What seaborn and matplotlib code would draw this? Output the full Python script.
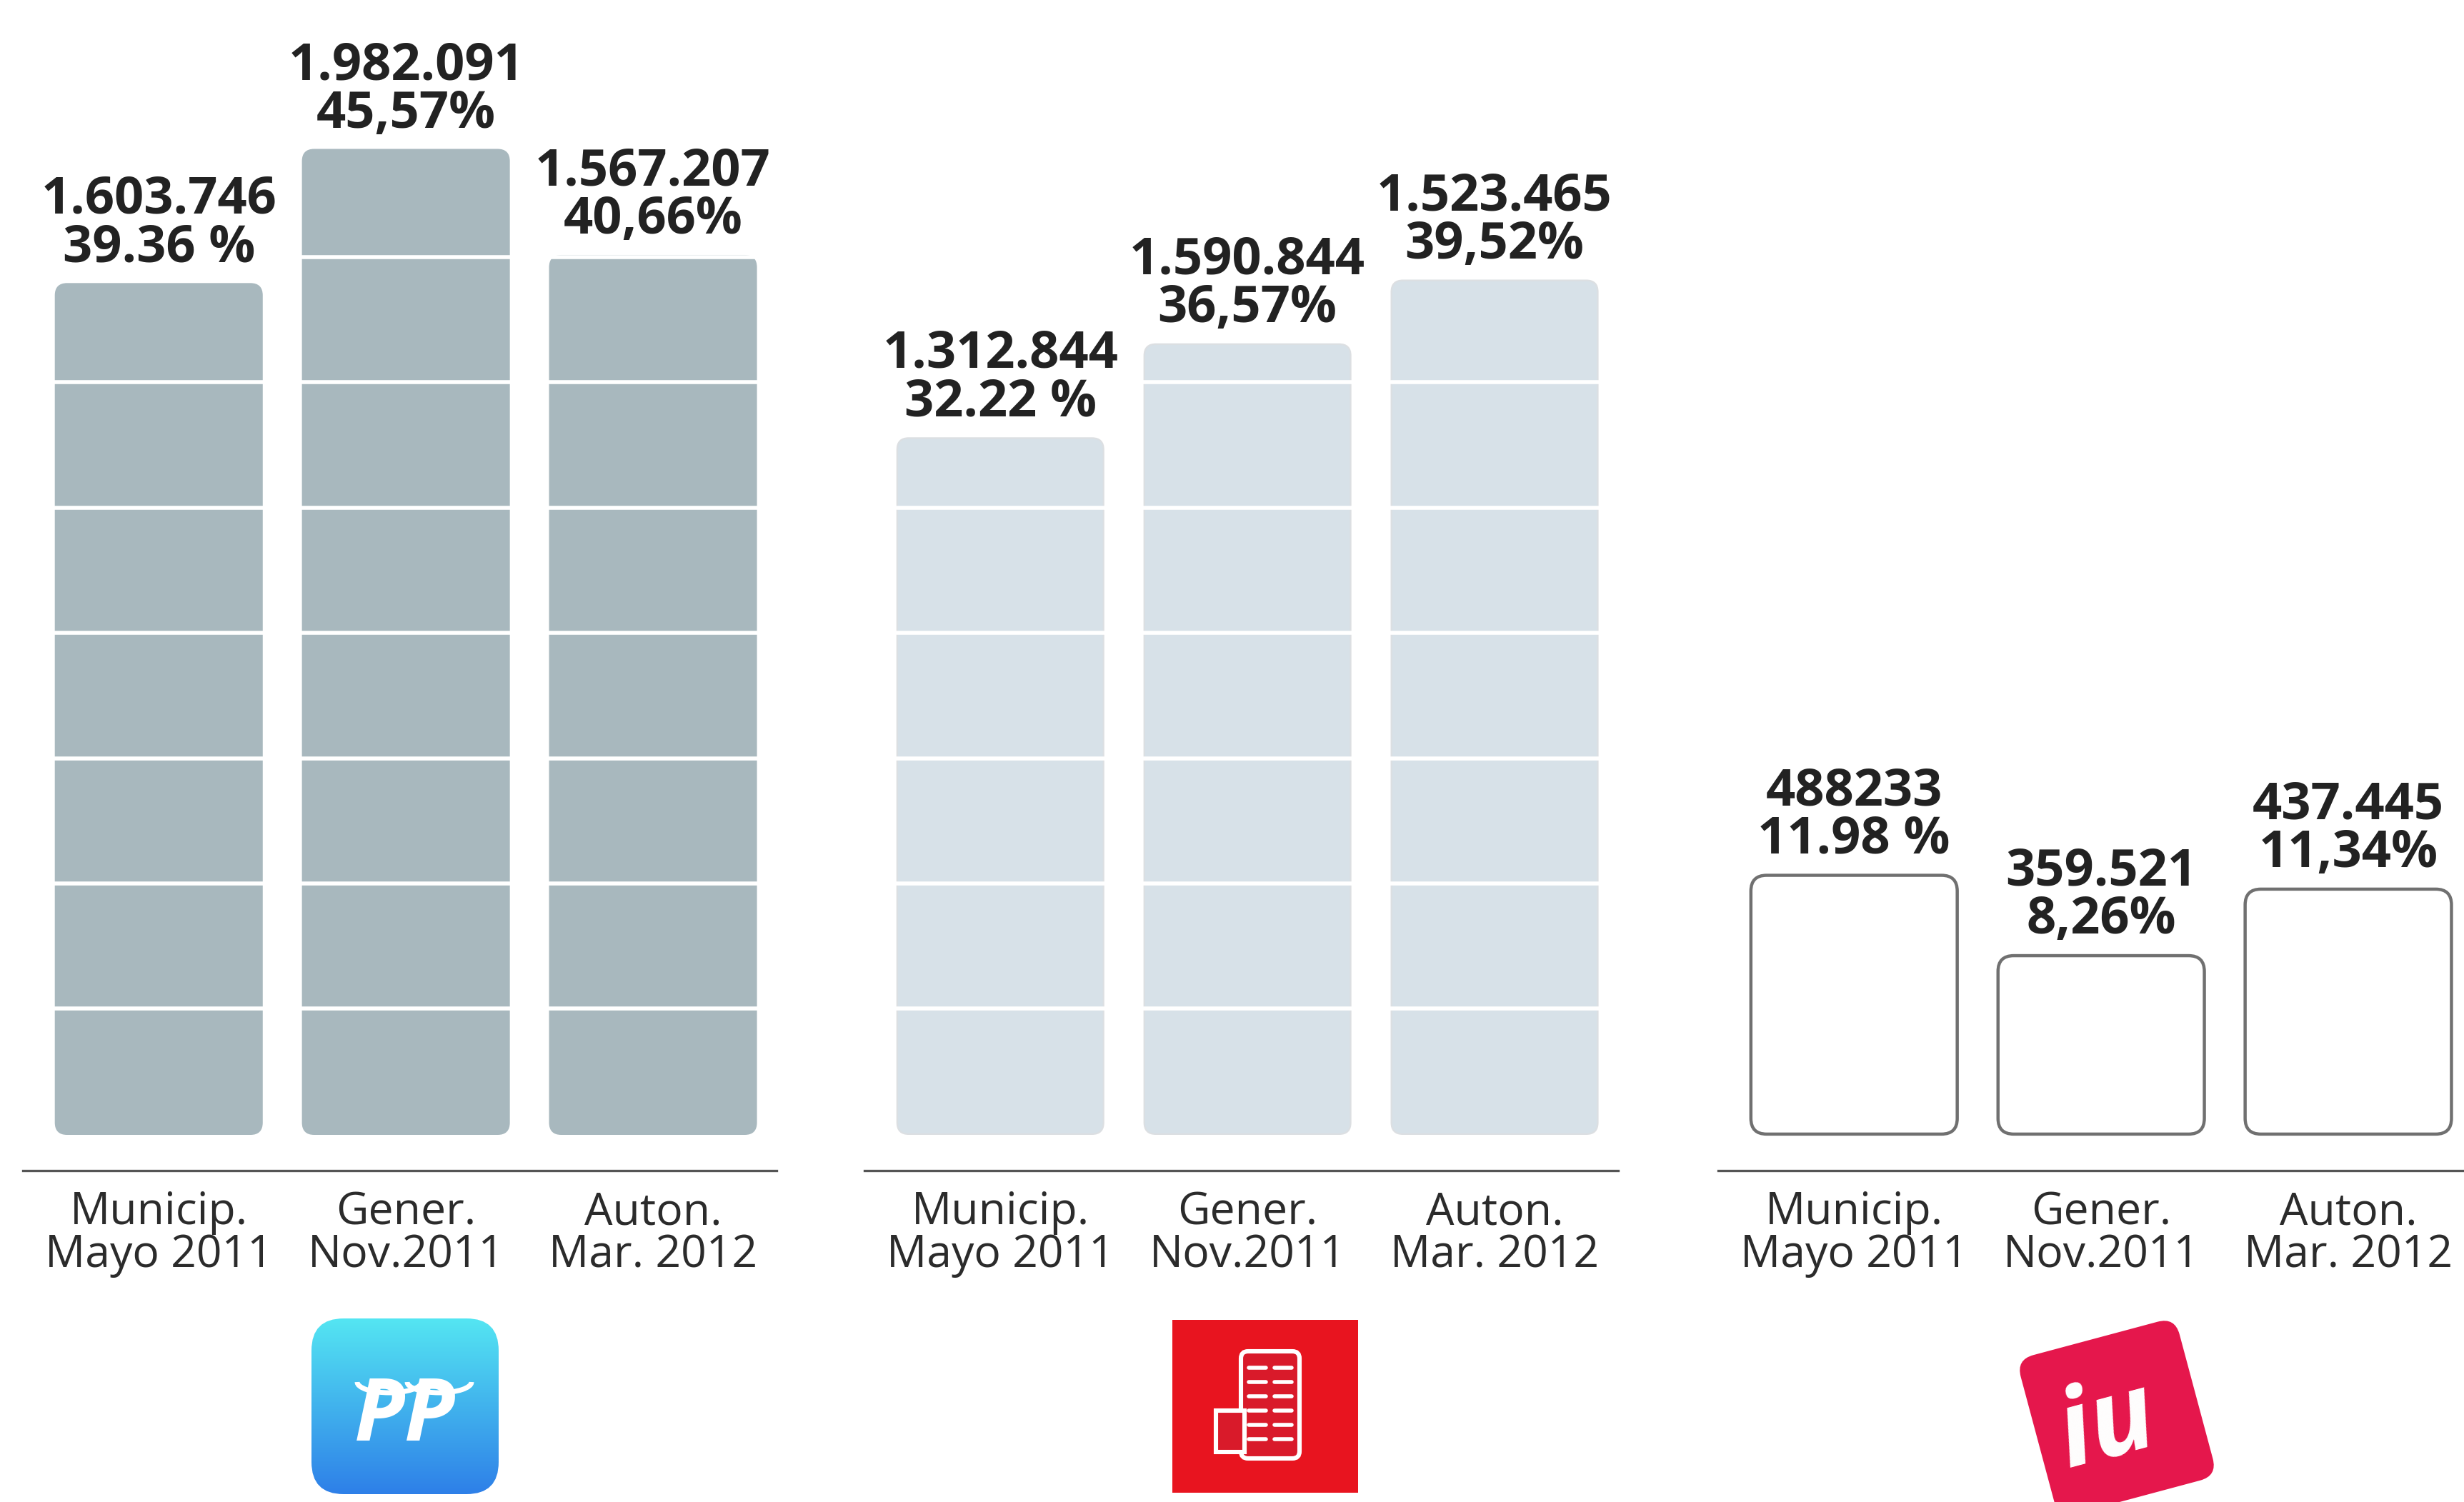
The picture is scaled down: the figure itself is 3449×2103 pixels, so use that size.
import matplotlib.pyplot as plt
import matplotlib.transforms as mtransforms
from matplotlib.patches import FancyBboxPatch, Rectangle, Arc
import numpy as np
import pandas as pd
import seaborn as sns

# Datos: votos y porcentaje por partido y eleccion
elecciones = ['Municip.\nMayo 2011', 'Gener.\nNov.2011', 'Auton.\nMar. 2012']

pct_pp = [39.36, 45.57, 40.66]
pct_psoe = [32.22, 36.57, 39.52]
pct_iu = [11.98, 8.26, 11.34]

votos_pp = ['1.603.746', '1.982.091', '1.567.207']
votos_psoe = ['1.312.844', '1.590.844', '1.523.465']
votos_iu = ['488233', '359.521', '437.445']

etiq_pct_pp = ['39.36 %', '45,57%', '40,66%']
etiq_pct_psoe = ['32.22 %', '36,57%', '39,52%']
etiq_pct_iu = ['11.98 %', '8,26%', '11,34%']

# lineas blancas decorativas que cortan las barras
cortes = [5.8, 11.6, 17.4, 23.2, 29.0, 34.8, 40.6]

sns.set_theme(style='white')
plt.rcParams['font.family'] = ['Open Sans', 'DejaVu Sans']

W, H = 3449, 2103
fig = plt.figure(figsize=(W / 200, H / 200), dpi=200)
fig.patch.set_facecolor('white')


def ejes_px(left, top, width, bottom):
    return fig.add_axes([left / W, 1 - bottom / H, width / W, (bottom - top) / H])


def redondear(ax, r_px, face, edge, lw):
    # cambio los rectangulos de seaborn por cajas con esquinas redondeadas
    p0 = ax.transData.transform((0, 0))
    p1 = ax.transData.transform((1, 1))
    px_x, px_y = p1[0] - p0[0], p1[1] - p0[1]
    r = r_px / px_x
    for p in list(ax.patches):
        x, y, w, h = p.get_x(), p.get_y(), p.get_width(), p.get_height()
        p.remove()
        caja = FancyBboxPatch((x, y), w, h,
                              boxstyle=f'round,pad=0,rounding_size={r}',
                              mutation_aspect=px_x / px_y,
                              facecolor=face, edgecolor=edge, linewidth=lw, zorder=1)
        ax.add_patch(caja)


partidos = [
    ('PP', pct_pp, votos_pp, etiq_pct_pp, 32, '#a8b8be', '#a8b8be', True),
    ('PSOE', pct_psoe, votos_psoe, etiq_pct_psoe, 1210, '#d7e1e8', '#dcdfe2', True),
    ('IU', pct_iu, votos_iu, etiq_pct_iu, 2405, 'white', '#707070', False),
]

for nombre, pct, votos, etiq, left, face, edge, con_cortes in partidos:
    ax = ejes_px(left, 0, 1055, 1639)
    df = pd.DataFrame({'eleccion': elecciones, 'pct': pct})
    sns.barplot(data=df, x='eleccion', y='pct', order=elecciones, color=face,
                width=0.835, ax=ax)
    ax.set_xlim(-0.55, 2.5)
    ax.set_ylim(-1.69, 52.5)
    if nombre == 'IU':
        redondear(ax, 22, face, edge, 1.6)
    else:
        redondear(ax, 16, face, edge, 0.8)
    if con_cortes:
        for c in cortes:
            ax.axhline(c, color='white', lw=2.0, zorder=2.5)
    for i, v in enumerate(pct):
        ax.annotate(f'{votos[i]}\n{etiq[i]}', xy=(i, v), xytext=(0, 5),
                    textcoords='offset points', ha='center', va='bottom',
                    fontsize=26, fontweight='bold', color='#222222',
                    linespacing=0.92, zorder=5)
    ax.set_xticks(range(3))
    ax.set_xticklabels(elecciones, fontsize=22.5, color='#2b2b2b', linespacing=0.95)
    ax.tick_params(axis='x', length=0, pad=10)
    ax.set_yticks([])
    ax.set_xlabel('')
    ax.set_ylabel('')
    for s in ['left', 'right', 'top']:
        ax.spines[s].set_visible(False)
    ax.spines['bottom'].set_color('#555555')
    ax.spines['bottom'].set_linewidth(1.2)
    ax.patch.set_alpha(0)

# ------------------------------------------
# Logos de los partidos (aproximados)
# ------------------------------------------
lg = fig.add_axes([0, 0, 1, 1])
lg.set_xlim(0, W)
lg.set_ylim(H, 0)
lg.axis('off')
lg.patch.set_alpha(0)

# PP: caja azul con degradado
caja_pp = FancyBboxPatch((436, 1846), 262, 246, boxstyle='round,pad=0,rounding_size=45',
                         facecolor='none', edgecolor='none')
lg.add_patch(caja_pp)
grad = np.linspace(0, 1, 256)[:, None]
c_top = np.array([0.33, 0.90, 0.95])
c_bot = np.array([0.18, 0.50, 0.91])
img = (c_top[None, None, :] * (1 - grad[..., None]) + c_bot[None, None, :] * grad[..., None])
im = lg.imshow(img, extent=(436, 698, 2092, 1846), origin='upper', aspect='auto', zorder=1)
im.set_clip_path(caja_pp)
lg.set_xlim(0, W)
lg.set_ylim(H, 0)
lg.text(567, 1985, 'PP', color='white', fontsize=44, fontweight='bold', style='italic',
        ha='center', va='center', zorder=3)
lg.add_patch(Arc((545, 1935), 90, 30, theta1=0, theta2=180, color='white', lw=2.5, zorder=3))
lg.add_patch(Arc((615, 1935), 90, 30, theta1=0, theta2=180, color='white', lw=2.5, zorder=3))

# PSOE: cuadro rojo con el puño y la rosa
lg.add_patch(Rectangle((1641, 1848), 260, 242, facecolor='#e8141f', edgecolor='none', zorder=1))
lg.add_patch(FancyBboxPatch((1737, 1892), 82, 150, boxstyle='round,pad=0,rounding_size=10',
                            facecolor='#d91a2a', edgecolor='white', lw=2.2, zorder=2))
lg.add_patch(Rectangle((1702, 1975), 40, 58, facecolor='#d91a2a', edgecolor='white', lw=2.2, zorder=2))
for k in range(6):
    yy = 1915 + k * 20
    lg.plot([1748, 1772], [yy, yy], color='white', lw=2, zorder=3)
    lg.plot([1784, 1808], [yy, yy], color='white', lw=2, zorder=3)

# IU: cuadro girado rosa-rojo
rot = mtransforms.Affine2D().rotate_deg_around(2963, 1985, -15) + lg.transData
lg.add_patch(FancyBboxPatch((2848, 1870), 230, 230, boxstyle='round,pad=0,rounding_size=25',
                            facecolor='#e5174c', edgecolor='none', zorder=1, transform=rot))
lg.text(2950, 2000, 'iu', color='white', fontsize=54, fontweight='bold', style='italic',
        ha='center', va='center', rotation=15, zorder=3)

plt.savefig('out.png', dpi=200, facecolor='white')
